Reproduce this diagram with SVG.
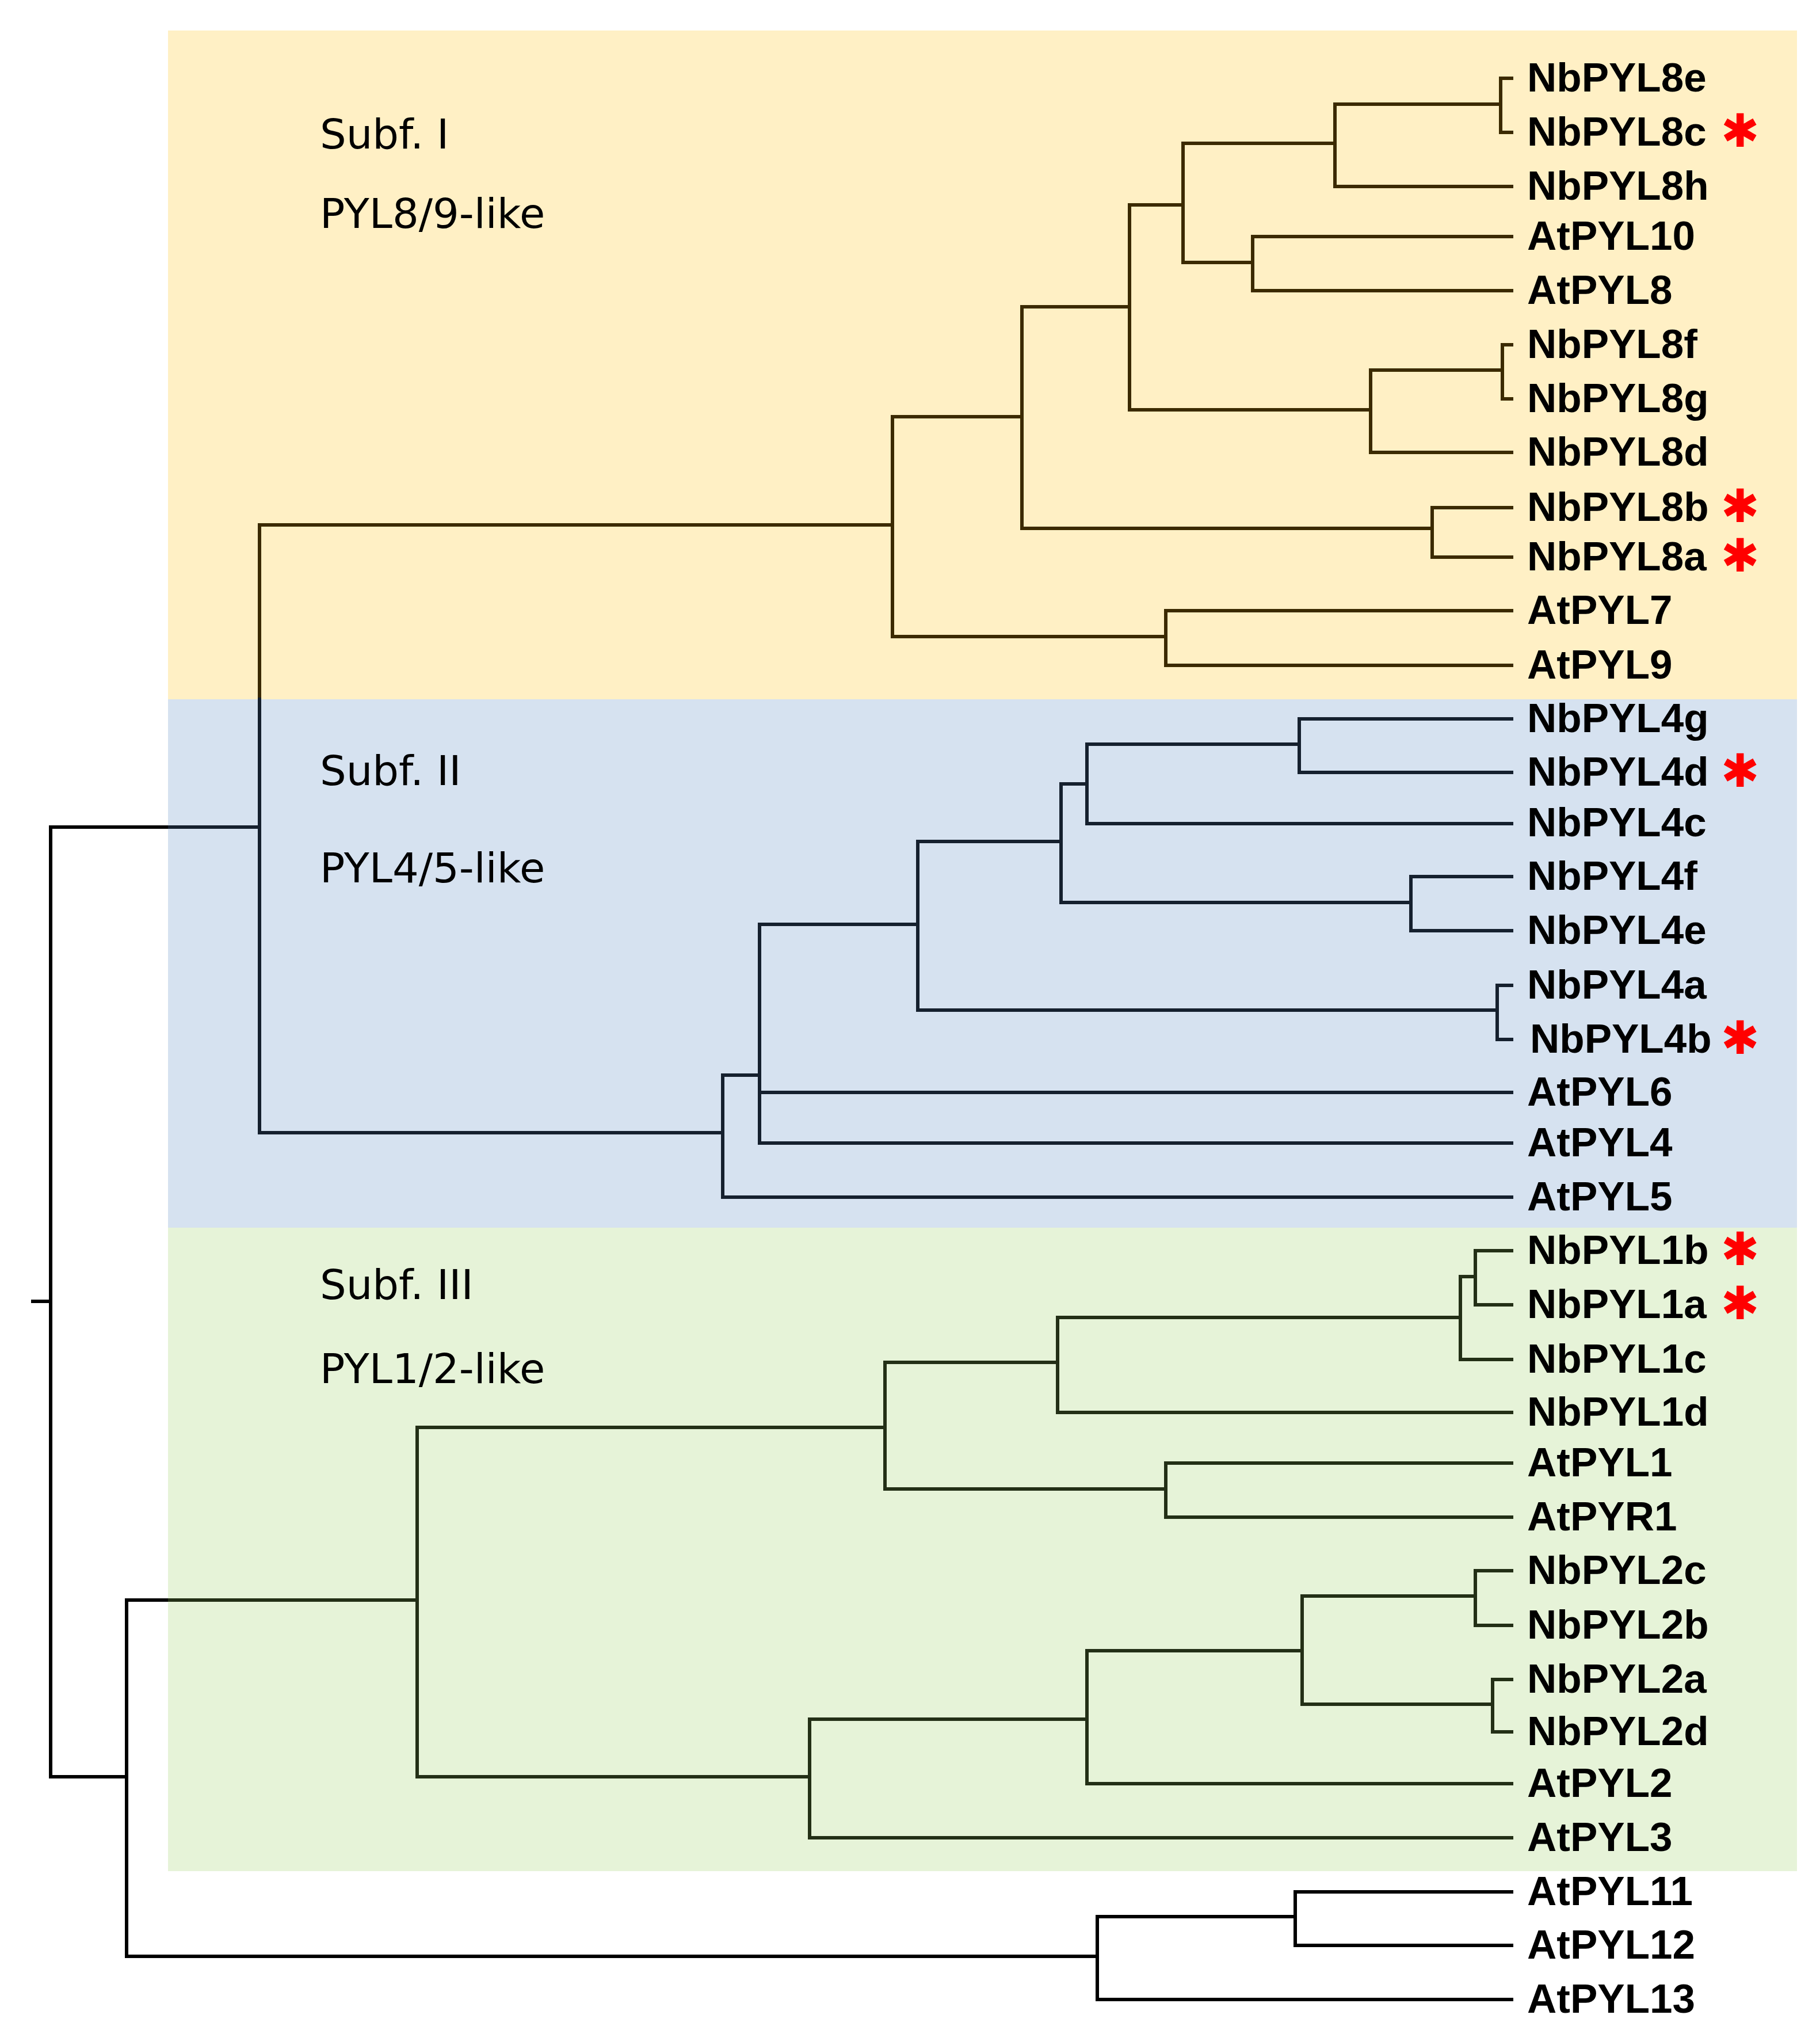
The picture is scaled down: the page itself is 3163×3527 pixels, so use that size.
<svg xmlns="http://www.w3.org/2000/svg" width="3163" height="3527" viewBox="0 0 3163 3527">
<style>
.ln{fill:none;stroke-width:6;stroke-linejoin:miter;stroke-linecap:butt}
.k{stroke:#000000}
.y{stroke:#3B2A00}
.b{stroke:#15202E}
.g{stroke:#232F16}
.lab{font-family:"Liberation Sans",Arial,sans-serif;font-weight:bold;font-size:71px;fill:#000}
.sub{font-family:"DejaVu Sans",Verdana,sans-serif;font-size:72px;fill:#000}
.star{font-family:"DejaVu Sans",sans-serif;font-size:80px;fill:#FF0000;text-anchor:middle}
</style>
<g id="backgrounds">
<rect id="subf1-bg" x="292" y="53" width="2831" height="1162" fill="#FFF0C5"/>
<rect id="subf2-bg" x="292" y="1215" width="2831" height="918" fill="#D6E2F0"/>
<rect id="subf3-bg" x="292" y="2133" width="2831" height="1118" fill="#E6F3D8"/>
</g>
<g id="connectors">
<path class="ln y" d="M2630,136 H2608 V230 H2630"/>
<path class="ln y" d="M2608,181 H2320 V324 H2630"/>
<path class="ln y" d="M2320,249 H2056 V456 H2177"/>
<path class="ln y" d="M2630,411 H2177 V505 H2630"/>
<path class="ln y" d="M2056,356 H1963 V712 H2382"/>
<path class="ln y" d="M2611,643 H2382 V786 H2630"/>
<path class="ln y" d="M2630,599 H2611 V693 H2630"/>
<path class="ln y" d="M1963,533 H1776 V918 H2489"/>
<path class="ln y" d="M2630,882 H2489 V968 H2630"/>
<path class="ln y" d="M1776,724 H1551 V1106 H2026"/>
<path class="ln y" d="M2630,1061 H2026 V1156 H2630"/>
<path class="ln y" d="M1551,912 H451 V1215"/>
<path class="ln b" d="M451,1212 V1968 H1256"/>
<path class="ln b" d="M451,1437 H292"/>
<path class="ln b" d="M1320,1868 H1256 V2080 H2630"/>
<path class="ln b" d="M1595,1606 H1320 V1986 H2630"/>
<path class="ln b" d="M1320,1898 H2630"/>
<path class="ln b" d="M1844,1462 H1595 V1755 H2602"/>
<path class="ln b" d="M2630,1712 H2602 V1806 H2630"/>
<path class="ln b" d="M1889,1362 H1844 V1568 H2452"/>
<path class="ln b" d="M2630,1523 H2452 V1617 H2630"/>
<path class="ln b" d="M2258,1293 H1889 V1431 H2630"/>
<path class="ln b" d="M2630,1249 H2258 V1342 H2630"/>
<path class="ln k" d="M292,1437 H88 V3087 H220"/>
<path class="ln k" d="M54,2261 H88"/>
<path class="ln k" d="M292,2780 H220 V3399 H1907"/>
<path class="ln g" d="M725,2780 H292"/>
<path class="ln k" d="M2251,3330 H1907 V3474 H2630"/>
<path class="ln k" d="M2630,3287 H2251 V3380 H2630"/>
<path class="ln g" d="M1538,2480 H725 V3087 H1407"/>
<path class="ln g" d="M1838,2367 H1538 V2587 H2026"/>
<path class="ln g" d="M2630,2542 H2026 V2636 H2630"/>
<path class="ln g" d="M2538,2289 H1838 V2454 H2630"/>
<path class="ln g" d="M2564,2218 H2538 V2362 H2630"/>
<path class="ln g" d="M2630,2173 H2564 V2267 H2630"/>
<path class="ln g" d="M1889,2987 H1407 V3193 H2630"/>
<path class="ln g" d="M2263,2868 H1889 V3099 H2630"/>
<path class="ln g" d="M2564,2773 H2263 V2961 H2594"/>
<path class="ln g" d="M2630,2729 H2564 V2824 H2630"/>
<path class="ln g" d="M2630,2918 H2594 V3009 H2630"/>
</g>
<g id="subfamily-labels">
<text class="sub" x="556" y="258">Subf. I</text>
<text class="sub" x="556" y="396">PYL8/9-like</text>
<text class="sub" x="556" y="1364">Subf. II</text>
<text class="sub" x="556" y="1533">PYL4/5-like</text>
<text class="sub" x="556" y="2257">Subf. III</text>
<text class="sub" x="556" y="2403">PYL1/2-like</text>
</g>
<g id="leaves">
<g id="NbPYL8e"><text class="lab" x="2654" y="159">NbPYL8e</text></g>
<g id="NbPYL8c"><text class="lab" x="2654" y="253">NbPYL8c</text><text class="star" x="3024" y="255">✱</text></g>
<g id="NbPYL8h"><text class="lab" x="2654" y="347">NbPYL8h</text></g>
<g id="AtPYL10"><text class="lab" x="2654" y="434">AtPYL10</text></g>
<g id="AtPYL8"><text class="lab" x="2654" y="528">AtPYL8</text></g>
<g id="NbPYL8f"><text class="lab" x="2654" y="622">NbPYL8f</text></g>
<g id="NbPYL8g"><text class="lab" x="2654" y="716">NbPYL8g</text></g>
<g id="NbPYL8d"><text class="lab" x="2654" y="809">NbPYL8d</text></g>
<g id="NbPYL8b"><text class="lab" x="2654" y="905">NbPYL8b</text><text class="star" x="3024" y="907">✱</text></g>
<g id="NbPYL8a"><text class="lab" x="2654" y="991">NbPYL8a</text><text class="star" x="3024" y="993">✱</text></g>
<g id="AtPYL7"><text class="lab" x="2654" y="1084">AtPYL7</text></g>
<g id="AtPYL9"><text class="lab" x="2654" y="1179">AtPYL9</text></g>
<g id="NbPYL4g"><text class="lab" x="2654" y="1272">NbPYL4g</text></g>
<g id="NbPYL4d"><text class="lab" x="2654" y="1365">NbPYL4d</text><text class="star" x="3024" y="1367">✱</text></g>
<g id="NbPYL4c"><text class="lab" x="2654" y="1453">NbPYL4c</text></g>
<g id="NbPYL4f"><text class="lab" x="2654" y="1546">NbPYL4f</text></g>
<g id="NbPYL4e"><text class="lab" x="2654" y="1640">NbPYL4e</text></g>
<g id="NbPYL4a"><text class="lab" x="2654" y="1735">NbPYL4a</text></g>
<g id="NbPYL4b"><text class="lab" x="2659" y="1829">NbPYL4b</text><text class="star" x="3024" y="1831">✱</text></g>
<g id="AtPYL6"><text class="lab" x="2654" y="1921">AtPYL6</text></g>
<g id="AtPYL4"><text class="lab" x="2654" y="2009">AtPYL4</text></g>
<g id="AtPYL5"><text class="lab" x="2654" y="2103">AtPYL5</text></g>
<g id="NbPYL1b"><text class="lab" x="2654" y="2196">NbPYL1b</text><text class="star" x="3024" y="2198">✱</text></g>
<g id="NbPYL1a"><text class="lab" x="2654" y="2290">NbPYL1a</text><text class="star" x="3024" y="2292">✱</text></g>
<g id="NbPYL1c"><text class="lab" x="2654" y="2385">NbPYL1c</text></g>
<g id="NbPYL1d"><text class="lab" x="2654" y="2477">NbPYL1d</text></g>
<g id="AtPYL1"><text class="lab" x="2654" y="2565">AtPYL1</text></g>
<g id="AtPYR1"><text class="lab" x="2654" y="2659">AtPYR1</text></g>
<g id="NbPYL2c"><text class="lab" x="2654" y="2752">NbPYL2c</text></g>
<g id="NbPYL2b"><text class="lab" x="2654" y="2847">NbPYL2b</text></g>
<g id="NbPYL2a"><text class="lab" x="2654" y="2941">NbPYL2a</text></g>
<g id="NbPYL2d"><text class="lab" x="2654" y="3032">NbPYL2d</text></g>
<g id="AtPYL2"><text class="lab" x="2654" y="3122">AtPYL2</text></g>
<g id="AtPYL3"><text class="lab" x="2654" y="3216">AtPYL3</text></g>
<g id="AtPYL11"><text class="lab" x="2654" y="3310">AtPYL11</text></g>
<g id="AtPYL12"><text class="lab" x="2654" y="3403">AtPYL12</text></g>
<g id="AtPYL13"><text class="lab" x="2654" y="3497">AtPYL13</text></g>
</g>
</svg>
